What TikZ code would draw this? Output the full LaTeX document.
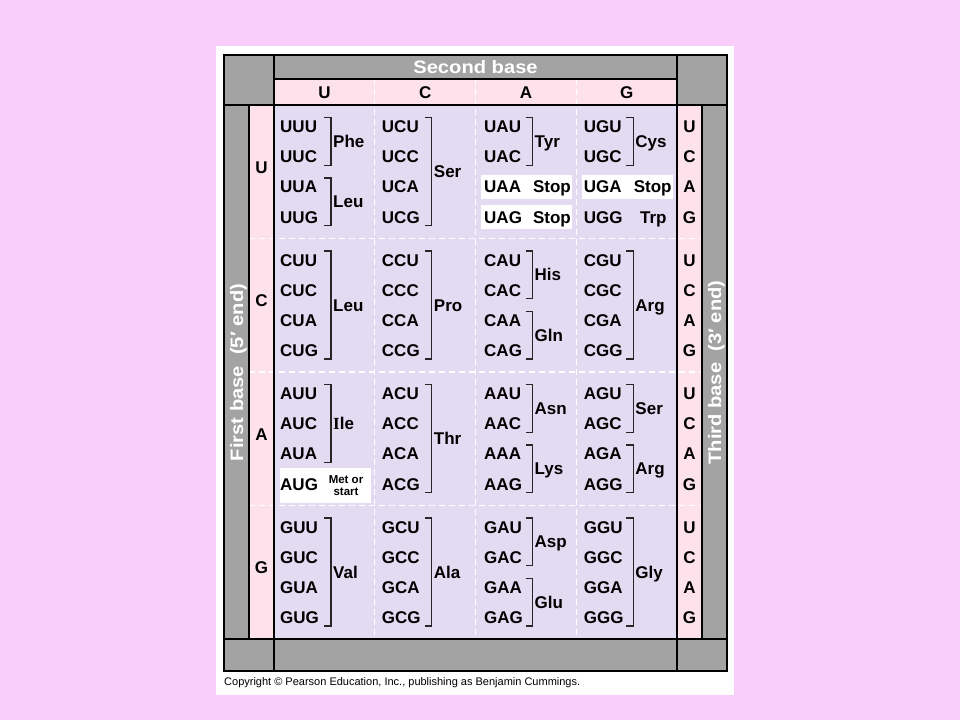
\documentclass[tikz,border=0pt]{standalone}
\usepackage{fontspec}
\setmainfont{Liberation Sans}
\newfontfamily\widesans[FakeStretch=1.12]{Liberation Sans}
\newfontfamily\serifI{Liberation Serif}
\definecolor{bgpink}{RGB}{250,206,250}
\definecolor{framegray}{RGB}{163,163,163}
\definecolor{rowpink}{RGB}{253,226,236}
\definecolor{lav}{RGB}{227,219,241}
\newcommand\cdnfont{\bfseries\fontsize{17}{17}\selectfont}
\newcommand\bigwhite{\widesans\bfseries\fontsize{18}{18}\selectfont}
\newcommand\mybrk[5]{%
  \pgfmathsetmacro\bx{274+100.75*#1+57}%
  \pgfmathsetmacro\by{105+133.5*#2+21.5+30.2*#3-9}%
  \pgfmathsetmacro\bz{105+133.5*#2+21.5+30.2*#4+8.5}%
  \pgfmathsetmacro\bm{(\by+\bz)/2}%
  \draw[brkline] ({\bx-7},\by) -- (\bx,\by) -- (\bx,\bz) -- ({\bx-7},\bz);%
  \node[aa] (aa-#1-#2-#3) at ({\bx+2},\bm) {#5};%
}
\begin{document}
\begin{tikzpicture}[x=1pt,y=-1pt,
  frame/.style={black,line width=1.3pt},
  dashsep/.style={white,line width=1.2pt,dash pattern=on 6pt off 4pt},
  brkline/.style={black!85,line width=1.3pt},
  cod/.style={font=\cdnfont,anchor=west,inner sep=0pt,text height=12pt,text depth=0pt},
  aa/.style={font=\cdnfont,anchor=west,inner sep=0pt,text height=12pt,text depth=0pt},
  letter/.style={font=\cdnfont,anchor=center,inner sep=0pt,text height=12pt,text depth=0pt},
  side/.style={font=\bigwhite,text=white,rotate=90,anchor=center,inner sep=0pt,text height=13pt,text depth=0pt},
  wbox/.style={fill=white}]
\useasboundingbox (0,0) rectangle (960,720);
\fill[bgpink] (0,0) rectangle (960,720);
\fill[white] (216,46) rectangle (734,695);
% fills
\fill[framegray] (224,55) rectangle (727,671);
\fill[rowpink] (274,79) rectangle (677,105);
\fill[rowpink] (249,105) rectangle (274,639);
\fill[rowpink] (677,105) rectangle (702,639);
\fill[lav] (274,105) rectangle (677,639);
% dashed separators
\foreach \k in {1,2,3} {
  \draw[dashsep] ({274+100.75*\k},79) -- ({274+100.75*\k},639);
  \draw[dashsep] (249,{105+133.5*\k}) -- (702,{105+133.5*\k});
}
% frame lines
\draw[frame] (224,55) rectangle (727,671);
\draw[frame] (274,55) -- (274,671);
\draw[frame] (677,55) -- (677,671);
\draw[frame] (224,105) -- (727,105);
\draw[frame] (224,639) -- (727,639);
\draw[frame] (274,79) -- (677,79);
\draw[frame] (249,105) -- (249,639);
\draw[frame] (702,105) -- (702,639);
% white boxes
\fill[wbox] (481,174.9) rectangle (572,198.9);
\fill[wbox] (481,205.1) rectangle (572,229.1);
\fill[wbox] (581.75,174.9) rectangle (672.75,198.9);
\fill[wbox] (279.5,468.3) rectangle (370.5,502.7);
% headers
\node[font=\bigwhite,text=white,inner sep=0pt,text height=13pt,text depth=0pt] (second) at (475.5,67) {Second base};
\foreach \c/\s in {0/U,1/C,2/A,3/G}
  \node[letter] (hd\s) at ({274+100.75*\c+50.4},92) {\s};
\node[side] (firstlab) at (236.5,372.5) {First base~~(5′ end)};
\node[side] (thirdlab) at (714.5,372.5) {Third base~~(3′ end)};
% first base letters, third base letters, codons
\foreach \r/\b in {0/U,1/C,2/A,3/G} {
  \node[letter] (fb\b) at (261.5,{105+133.5*\r+62.25}) {\b};
  \foreach \i/\t in {0/U,1/C,2/A,3/G} {
    \node[letter] (tb\b\t) at (689.5,{105+133.5*\r+21.5+30.2*\i}) {\t};
    \foreach \c/\s/\o in {0/U/6,1/C/7,2/A/8.5,3/G/7.5}
      \node[cod] (n\b\s\t) at ({274+100.75*\c+\o},{105+133.5*\r+21.5+30.2*\i}) {\b\s\t};
  }
}
% brackets: row U
\mybrk{0}{0}{0}{1}{Phe}
\mybrk{0}{0}{2}{3}{Leu}
\mybrk{1}{0}{0}{3}{Ser}
\mybrk{2}{0}{0}{1}{Tyr}
\mybrk{3}{0}{0}{1}{Cys}
\node[font=\cdnfont,anchor=east,inner sep=0pt,text height=12pt,text depth=0pt] (stop1) at (571,186.9) {Stop};
\node[font=\cdnfont,anchor=east,inner sep=0pt,text height=12pt,text depth=0pt] (stop2) at (571,217.1) {Stop};
\node[font=\cdnfont,anchor=east,inner sep=0pt,text height=12pt,text depth=0pt] (stop3) at (671.75,186.9) {Stop};
\node[font=\cdnfont,anchor=east,inner sep=0pt,text height=12pt,text depth=0pt] (trp) at (666.75,217.1) {Trp};
% row C
\mybrk{0}{1}{0}{3}{Leu}
\mybrk{1}{1}{0}{3}{Pro}
\mybrk{2}{1}{0}{1}{His}
\mybrk{2}{1}{2}{3}{Gln}
\mybrk{3}{1}{0}{3}{Arg}
% row A
\mybrk{0}{2}{0}{2}{{\serifI I}le}
\mybrk{1}{2}{0}{3}{Thr}
\mybrk{2}{2}{0}{1}{Asn}
\mybrk{2}{2}{2}{3}{Lys}
\mybrk{3}{2}{0}{1}{Ser}
\mybrk{3}{2}{2}{3}{Arg}
\node[font=\bfseries\fontsize{11.5}{11.5}\selectfont,align=center,inner sep=0pt] (met) at (346,485.5) {Met or\\start};
% row G
\mybrk{0}{3}{0}{3}{Val}
\mybrk{1}{3}{0}{3}{Ala}
\mybrk{2}{3}{0}{1}{Asp}
\mybrk{2}{3}{2}{3}{Glu}
\mybrk{3}{3}{0}{3}{Gly}
% copyright
\node[font=\fontsize{11}{11}\selectfont,anchor=west,inner sep=0pt] (copy) at (224,683) {Copyright © Pearson Education, Inc., publishing as Benjamin Cummings.};
\end{tikzpicture}
\end{document}
